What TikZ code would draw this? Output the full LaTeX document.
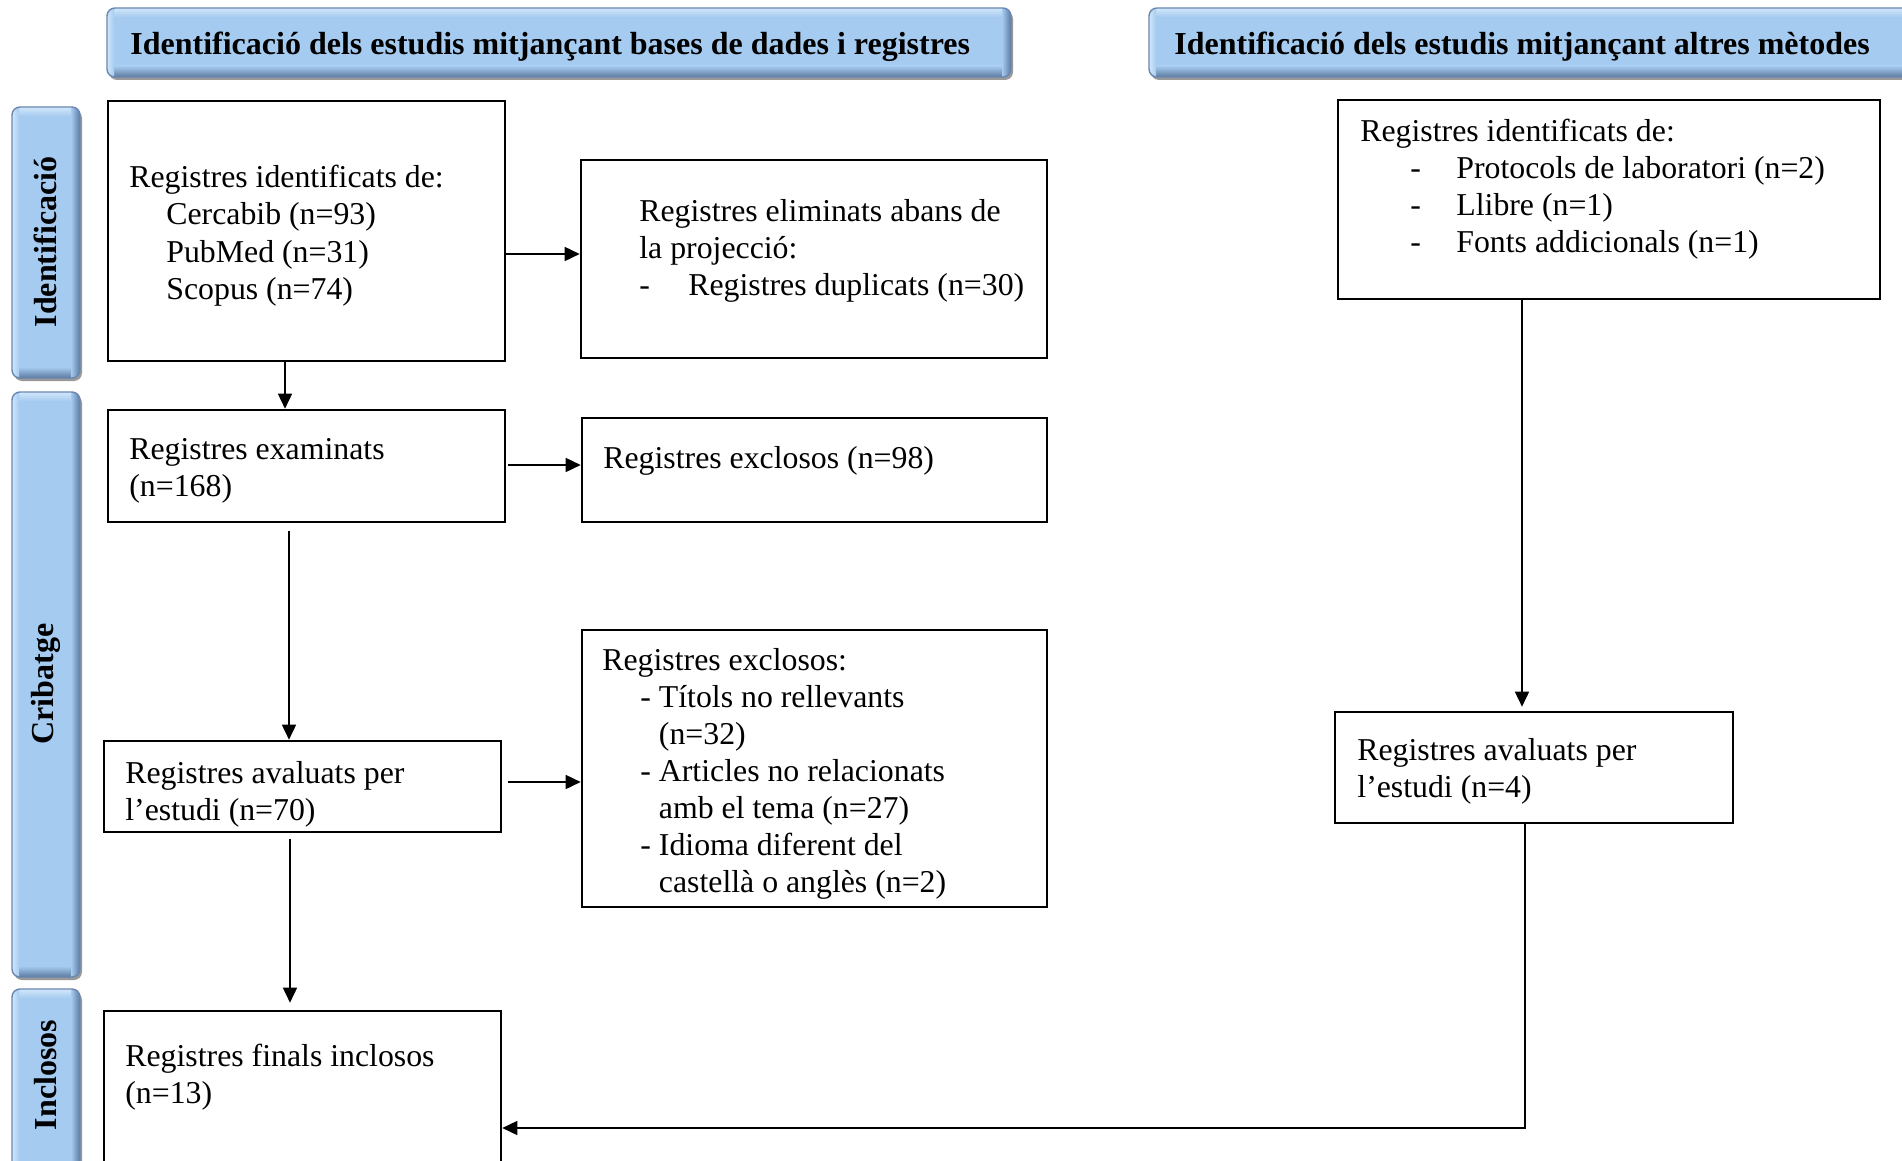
\documentclass[tikz,border=0pt]{standalone}
\usepackage{fontspec}
\setmainfont{Liberation Serif}
\usetikzlibrary{arrows.meta,fit,calc}
\definecolor{barfill}{RGB}{166,203,240}
\definecolor{barlight}{RGB}{210,231,251}
\definecolor{bardark}{RGB}{92,122,160}
\definecolor{baredge}{RGB}{105,135,175}
\newcommand\bevelbar[4]{%
  \fill[black!40, rounded corners=4pt] (#1+2,#2+3) rectangle (#3+2,#4+3);
  \begin{scope}
    \clip[rounded corners=4pt] (#1,#2) rectangle (#3,#4);
    \fill[barfill] (#1,#2) rectangle (#3,#4);
    \shade[top color=barlight, bottom color=barfill] (#1,#2) rectangle (#3,#2+9);
    \shade[top color=barfill, bottom color=bardark] (#1,#4-11) rectangle (#3,#4);
    \shade[left color=barlight, right color=barfill] (#1,#2) rectangle (#1+7,#4);
    \shade[left color=barfill, right color=bardark] (#3-9,#2) rectangle (#3,#4);
  \end{scope}
  \draw[baredge, line width=0.7pt, rounded corners=4pt] (#1,#2) rectangle (#3,#4);
}
\tikzset{
  box/.style={draw=black, line width=1.3pt, inner sep=0pt},
  txt/.style={inner sep=0pt, anchor=base west, font=\fontsize{15.9}{18.5}\selectfont},
  hdr/.style={inner sep=0pt, anchor=base west, font=\fontsize{16}{19}\selectfont\bfseries},
  side/.style={inner sep=0pt, rotate=90, font=\fontsize{16}{19}\selectfont\bfseries},
  arr/.style={line width=0.8pt, -{Triangle[length=7.5pt,width=7pt]}},
}
\begin{document}
\begin{tikzpicture}[x=0.5pt,y=-0.5pt]
\clip (0,0) rectangle (1902,1161);
\useasboundingbox (0,0) rectangle (1902,1161);

% header bars and side bars
\bevelbar{107}{8}{1011}{77}
\bevelbar{1149}{8}{1970}{77}
\bevelbar{12}{107}{80}{378}
\bevelbar{12}{392}{80}{977}
\bevelbar{12}{989}{80}{1210}

\node[hdr] (h1) at (130,55) {Identificació dels estudis mitjançant bases de dades i registres};
\node[hdr] (h2) at (1174,55) {Identificació dels estudis mitjançant altres mètodes};
\node[side] (s1) at (45,242) {Identificació};
\node[side] (s2) at (46,684) {Cribatge};
\node[side] (s3) at (46,1075) {Inclosos};

% boxes
\node[box, fit={(108,101) (505,361)}] (A) {};
\node[box, fit={(581,160) (1047,358)}] (B) {};
\node[box, fit={(108,410) (505,522)}] (C) {};
\node[box, fit={(582,418) (1047,522)}] (D) {};
\node[box, fit={(104,741) (501,832)}] (E) {};
\node[box, fit={(582,630) (1047,907)}] (F) {};
\node[box, fit={(104,1011) (501,1220)}] (G) {};
\node[box, fit={(1338,100) (1880,299)}] (H) {};
\node[box, fit={(1335,712) (1733,823)}] (I) {};

% texts
\node[txt] (At) at (129,188) {\begin{tabular}[t]{@{}l@{}}Registres identificats de:\\
\hspace*{18.5pt}Cercabib (n=93)\\
\hspace*{18.5pt}PubMed (n=31)\\
\hspace*{18.5pt}Scopus (n=74)\end{tabular}};
\node[txt] (Bt) at (639,221) {\begin{tabular}[t]{@{}l@{}}Registres eliminats abans de\\
la projecció:\\
\makebox[24.5pt][l]{-}Registres duplicats (n=30)\end{tabular}};
\node[txt] (Ct) at (129,459) {\begin{tabular}[t]{@{}l@{}}Registres examinats\\(n=168)\end{tabular}};
\node[txt] (Dt) at (603,468) {Registres exclosos (n=98)};
\node[txt] (Et) at (125,783) {\begin{tabular}[t]{@{}l@{}}Registres avaluats per\\l’estudi (n=70)\end{tabular}};
\node[txt] (Ft) at (602,670) {\begin{tabular}[t]{@{}l@{}}Registres exclosos:\\
\hspace*{19pt}- Títols no rellevants\\
\hspace*{19pt}\phantom{- }(n=32)\\
\hspace*{19pt}- Articles no relacionats\\
\hspace*{19pt}\phantom{- }amb el tema (n=27)\\
\hspace*{19pt}- Idioma diferent del\\
\hspace*{19pt}\phantom{- }castellà o anglès (n=2)\end{tabular}};
\node[txt] (Gt) at (125,1066) {\begin{tabular}[t]{@{}l@{}}Registres finals inclosos\\(n=13)\end{tabular}};
\node[txt] (Ht) at (1360,141) {\begin{tabular}[t]{@{}l@{}}Registres identificats de:\\
\hspace*{25pt}\makebox[23pt][l]{-}Protocols de laboratori (n=2)\\
\hspace*{25pt}\makebox[23pt][l]{-}Llibre (n=1)\\
\hspace*{25pt}\makebox[23pt][l]{-}Fonts addicionals (n=1)\end{tabular}};
\node[txt] (It) at (1357,760) {\begin{tabular}[t]{@{}l@{}}Registres avaluats per\\l’estudi (n=4)\end{tabular}};

% connectors
\draw[arr] (A.south -| 285,0) -- (C.north -| 285,0);
\draw[arr] (A.east |- 0,254) -- (B.west |- 0,254);
\draw[arr, shorten <=1pt] (C.east |- 0,465) -- (D.west |- 0,465);
\draw[arr, shorten <=4pt] (C.south -| 289,0) -- (E.north -| 289,0);
\draw[arr, shorten <=3pt] (E.east |- 0,782) -- (F.west |- 0,782);
\draw[arr, shorten <=3pt, shorten >=3.5pt] (E.south -| 290,0) -- (G.north -| 290,0);
\draw[arr, shorten >=2pt] (H.south -| 1522,0) -- (I.north -| 1522,0);
\draw[arr] (I.south -| 1525,0) |- (G.east |- 0,1128);
\end{tikzpicture}
\end{document}
